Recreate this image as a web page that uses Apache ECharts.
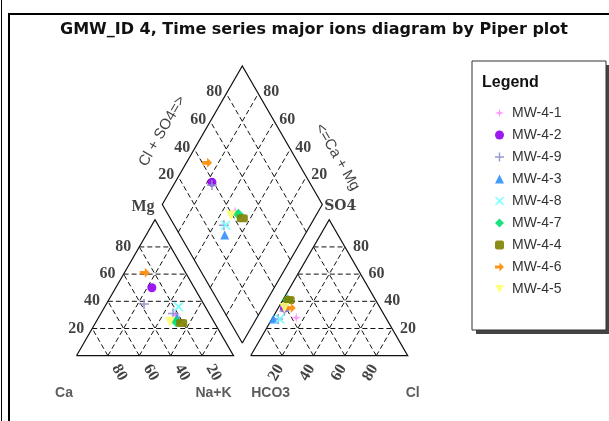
<!DOCTYPE html>
<html><head><meta charset="utf-8">
<script src="https://cdn.jsdelivr.net/npm/echarts@6/dist/echarts.min.js"></script>
<style>html,body{margin:0;padding:0;background:#fff}#c{width:609px;height:421px}</style>
</head><body><div id="c"></div>
<script>
// ---------------- data ----------------
const chartTitle = 'GMW_ID 4, Time series major ions diagram by Piper plot';
const wells = ['MW-4-1','MW-4-2','MW-4-9','MW-4-3','MW-4-8','MW-4-7','MW-4-4','MW-4-6','MW-4-5'];
// one entry per observation (meq % values)
const obsWell = ['MW-4-1','MW-4-2','MW-4-9','MW-4-9','MW-4-3','MW-4-8','MW-4-7','MW-4-4','MW-4-6','MW-4-5'];
const caPct   = [22, 27, 38, 23, 22, 17, 24, 21, 26, 28];
const mgPct   = [30, 50, 38, 31, 28, 36, 25, 24, 61, 25];
const nakPct  = [48, 23, 24, 46, 50, 47, 51, 55, 13, 47];
const hco3Pct = [57, 61, 62, 69, 72, 68, 56, 55, 57, 61];
const so4Pct  = [28, 35, 33, 27, 27, 27, 41, 41, 35, 35];
const clPct   = [15,  4,  5,  4,  1,  5,  3,  4,  8,  4];
const tickValues = [20, 40, 60, 80];

// ---------------- layout / style ----------------
const S = 157, TH = S * Math.sqrt(3) / 2;
const CX0 = 76.5, AX0 = 250.7, BASEY = 355.7;
const DB = [242.3, 343], DS = 160, DH = DS * Math.sqrt(3) / 2;
function cat(mg, nak) { return [CX0 + (nak + mg / 2) / 100 * S, BASEY - mg / 100 * TH]; }
function ani(so4, cl) { return [AX0 + (cl + so4 / 2) / 100 * S, BASEY - so4 / 100 * TH]; }
function dia(camg, clso4) { return [DB[0] + (clso4 - camg) / 100 * DS / 2, DB[1] - (clso4 + camg) / 100 * DH]; }

const wellStyle = {
  'MW-4-1': { color: '#ff88ff', symbol: 'path://M5,0L6,4L10,5L6,6L5,10L4,6L0,5L4,4Z', size: 10 },
  'MW-4-2': { color: '#9000ee', symbol: 'circle', size: 9 },
  'MW-4-9': { color: '#8f8fd0', symbol: 'path://M4.2,0H5.8V4.2H10V5.8H5.8V10H4.2V5.8H0V4.2H4.2Z', size: 10 },
  'MW-4-3': { color: '#3090ff', symbol: 'triangle', size: 9 },
  'MW-4-8': { color: '#70ffff', symbol: 'path://M1,0L5,3.6L9,0L10,1L6.4,5L10,9L9,10L5,6.4L1,10L0,9L3.6,5L0,1Z', size: 10 },
  'MW-4-7': { color: '#00e070', symbol: 'diamond', size: 11 },
  'MW-4-4': { color: '#808000', symbol: 'roundRect', size: [11, 8] },
  'MW-4-6': { color: '#ff8800', symbol: 'path://M0,3.2H5V0L10,5L5,10V6.8H0Z', size: 10 },
  'MW-4-5': { color: '#ffff70', symbol: 'path://M0,0H10L5,9Z', size: 10 }
};

// ---------------- geometry lines ----------------
const solid = [], dashed = [];
solid.push({ coords: [cat(0, 0), cat(0, 100), cat(100, 0), cat(0, 0)] });
solid.push({ coords: [ani(0, 0), ani(0, 100), ani(100, 0), ani(0, 0)] });
solid.push({ coords: [dia(0, 0), dia(0, 100), dia(100, 100), dia(100, 0), dia(0, 0)] });
tickValues.forEach(v => {
  dashed.push({ coords: [cat(v, 0), cat(v, 100 - v)] });
  dashed.push({ coords: [cat(0, v), cat(100 - v, v)] });
  dashed.push({ coords: [cat(0, 100 - v), cat(100 - v, 0)] });
  dashed.push({ coords: [ani(v, 0), ani(v, 100 - v)] });
  dashed.push({ coords: [ani(0, v), ani(100 - v, v)] });
  dashed.push({ coords: [ani(0, 100 - v), ani(100 - v, 0)] });
  dashed.push({ coords: [dia(0, v), dia(100, v)] });
  dashed.push({ coords: [dia(v, 0), dia(v, 100)] });
});

// ---------------- labels ----------------
const numFont = { fontFamily: 'Liberation Serif', fontWeight: 'bold', fontSize: 16, color: '#111' };
const labels = [];
function lbl(pos, text, o, d) {
  d = d || [0, 0];
  labels.push({ value: [pos[0] + d[0], pos[1] + d[1]], label: Object.assign({ show: true, position: 'inside', formatter: text,
    align: 'center', verticalAlign: 'middle' }, numFont, o) });
}
tickValues.forEach(v => {
  lbl(cat(v, 0), String(v), { align: 'right' }, [-8, 0]);
  lbl(ani(v, 100 - v), String(v), { align: 'left' }, [8, 0]);
  lbl(cat(0, 100 - v), String(v), { rotate: -60 }, [11.5, 17]);
  lbl(ani(0, v), String(v), { rotate: 60 }, [-6, 17]);
  lbl(dia(100, v), String(v), { align: 'right' }, [-4, -1.5]);
  lbl(dia(v, 100), String(v), { align: 'left' }, [5, -1.5]);
});
const cornerFont = { fontFamily: 'Liberation Sans', fontWeight: 'bold', fontSize: 14, color: '#333' };
lbl(cat(100, 0), 'Mg', {}, [-12, -13]);
lbl(ani(100, 0), 'SO4', { fontFamily: 'DejaVu Serif', fontSize: 14 }, [11, -13]);
lbl(cat(0, 0), 'Ca', cornerFont, [-12.5, 37]);
lbl(cat(0, 100), 'Na+K', cornerFont, [-20, 37]);
lbl(ani(0, 0), 'HCO3', cornerFont, [20, 37]);
lbl(ani(0, 100), 'Cl', cornerFont, [5, 37]);
const axFont = { fontFamily: 'Liberation Sans', fontWeight: 'normal', fontSize: 15, color: '#111' };
lbl(dia(100, 50), 'Cl + SO4=>', Object.assign({}, axFont, { rotate: 60 }), [-40, -4]);
lbl(dia(50, 100), '<=Ca + Mg', Object.assign({}, axFont, { rotate: -60 }), [55, 22]);

// ---------------- sample series ----------------
const sampleSeries = wells.map(w => {
  const data = [];
  obsWell.forEach((ow, i) => {
    if (ow !== w) return;
    data.push(cat(mgPct[i], nakPct[i]));
    data.push(ani(so4Pct[i], clPct[i]));
    data.push(dia(caPct[i] + mgPct[i], so4Pct[i] + clPct[i]));
  });
  const st = wellStyle[w];
  return { name: w, type: 'scatter', data: data, symbol: st.symbol, symbolSize: st.size,
    itemStyle: { color: st.color, opacity: 0.9 }, z: 5 };
});

const chart = echarts.init(document.getElementById('c'), null, { renderer: 'canvas' });
chart.setOption({
  animation: false,
  backgroundColor: '#fff',
  title: { text: chartTitle, left: 309, top: 17, textAlign: 'center',
    textStyle: { fontFamily: 'DejaVu Sans', fontWeight: 'bold', fontSize: 16, color: '#111' } },
  grid: { left: 0, right: 0, top: 0, bottom: 0 },
  xAxis: { type: 'value', min: 0, max: 609, show: false },
  yAxis: { type: 'value', min: 0, max: 421, show: false, inverse: true },
  legend: {
    data: wells, orient: 'vertical', left: 490, top: 101, itemWidth: 9, itemHeight: 9, itemGap: 8,
    textStyle: { fontFamily: 'Liberation Sans', fontSize: 14, color: '#333', lineHeight: 14, padding: [0, 0, 0, 3] },
    z: 10
  },
  graphic: [
    { type: 'line', shape: { x1: 1.5, y1: 0, x2: 1.5, y2: 421 }, style: { stroke: '#000', lineWidth: 1 }, z: 0 },
    { type: 'rect', shape: { x: 9, y: 14, width: 640, height: 440 }, style: { fill: 'none', stroke: '#000', lineWidth: 2 }, z: 0 },
    { type: 'rect', shape: { x: 476, y: 65, width: 134, height: 269 }, style: { fill: '#444' }, z: 1 },
    { type: 'rect', shape: { x: 472, y: 61, width: 134, height: 269 }, style: { fill: '#fff', stroke: '#333', lineWidth: 1 }, z: 2 },
    { type: 'text', x: 482, y: 83, style: { text: 'Legend', fontFamily: 'Liberation Sans', fontWeight: 'bold', fontSize: 16, fill: '#111', verticalAlign: 'middle' }, z: 3 }
  ],
  series: [
    { type: 'lines', coordinateSystem: 'cartesian2d', polyline: true, silent: true, data: dashed,
      lineStyle: { color: '#111', width: 1, type: [5, 3], opacity: 1 }, z: 1 },
    { type: 'lines', coordinateSystem: 'cartesian2d', polyline: true, silent: true, data: solid,
      lineStyle: { color: '#111', width: 1.2, opacity: 1 }, z: 2 },
    { type: 'scatter', name: 'labels', symbolSize: 0, data: labels, silent: true, z: 3 }
  ].concat(sampleSeries)
});
</script>
</body></html>
